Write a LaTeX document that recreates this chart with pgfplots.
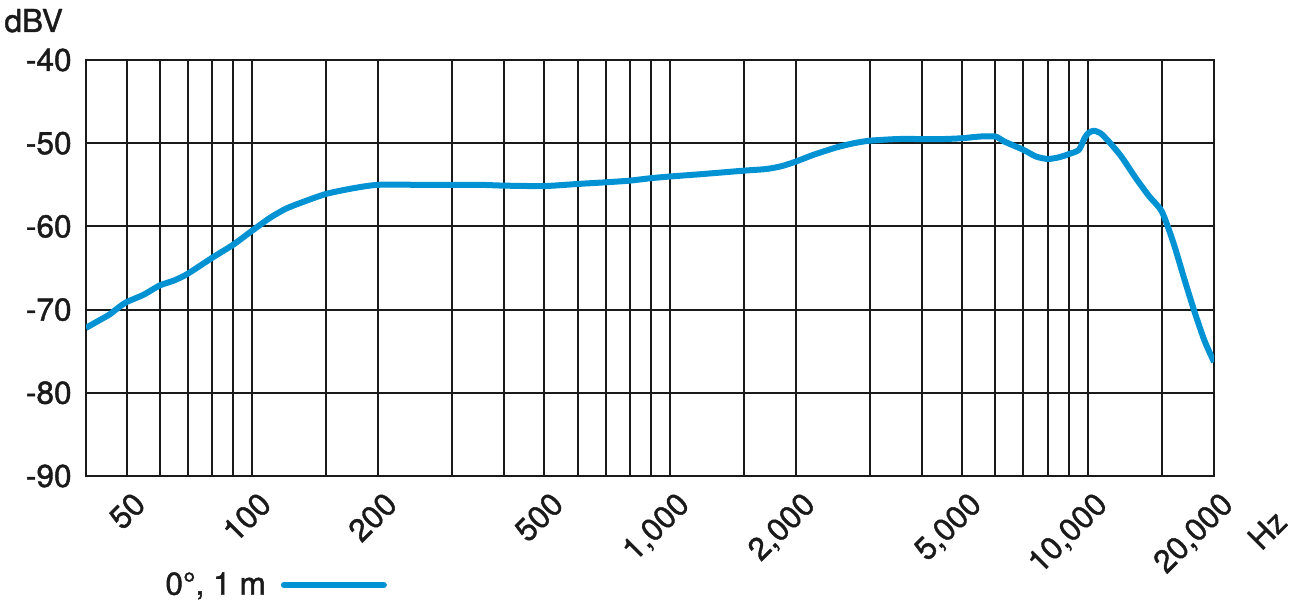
\documentclass[border=0pt]{standalone}
\usepackage{fontspec}
\setmainfont{TeX Gyre Heros}[FakeBold=1.3]
\usepackage{pgfplots}
\pgfplotsset{compat=1.18}
\definecolor{curve}{RGB}{0,146,211}
\definecolor{ink}{RGB}{26,26,26}
\newcommand{\lbl}{\fontsize{15.8bp}{18bp}\selectfont}

\begin{document}
\begin{tikzpicture}
\begin{axis}[
  name=ax,
  xmode=log,
  width=564bp, height=208bp, scale only axis,
  xmin=40, xmax=20000, ymin=-90, ymax=-40,
  xtick={40,50,60,70,80,90,100,150,200,300,400,500,600,700,800,900,1000,1500,2000,3000,4000,5000,6000,7000,8000,9000,10000,15000,20000},
  xticklabels={{},50,{},{},{},{},100,{},200,{},{},500,{},{},{},{},{1,000},{},{2,000},{},{},{5,000},{},{},{},{},{10,000},{},{20,000}},
  ytick={-90,-80,-70,-60,-50,-40},
  yticklabels={-90,-80,-70,-60,-50,\raisebox{-4bp}{-40}},
  major tick length=0pt,
  grid=major,
  grid style={line width=1bp, ink},
  axis line style={line width=1bp, ink},
  tick label style={font=\lbl, text=ink},
  xticklabel style={inner sep=0pt, anchor=base east, xshift=10.5bp, yshift=-15bp, rotate=45},
  yticklabel style={inner sep=0pt, anchor=east, xshift=-7bp},
  xlabel={Hz},
  xlabel style={at={(rel axis cs:1,0)}, anchor=base east, inner sep=0pt, xshift=37.5bp, yshift=-24bp, rotate=45, font=\lbl, text=ink},
  ylabel={dBV},
  ylabel style={at={(rel axis cs:0,1)}, rotate=-90, anchor=base west, inner sep=0pt, xshift=-41bp, yshift=14bp, font=\lbl, text=ink},
  legend plot pos=right,
  legend image code/.code={\path (0bp,0bp); \draw[#1, line cap=round] (7.5bp,0bp) -- (57.5bp,0bp);},
  legend style={at={(0,0)}, anchor=west, xshift=39.5bp, yshift=-54.5bp, draw=none, fill=none, inner sep=0pt, font=\lbl, text=ink, nodes={inner sep=0pt}},
]
\addplot[curve, line width=3bp, smooth, tension=0.4, line join=round] coordinates {
(40,-72.2) (43,-71.3) (45.5,-70.6) (48,-69.7) (50,-69.1) (55,-68.2) (60,-67.1) (65,-66.5) (70,-65.7)
(80,-63.8) (90,-62.2) (100,-60.5) (110,-59.0) (120,-57.9) (130,-57.2) (150,-56.1) (175,-55.4)
(200,-55.0) (250,-55.0) (300,-55.0) (350,-55.0) (400,-55.1) (500,-55.15) (600,-54.9) (700,-54.7)
(800,-54.5) (900,-54.2) (1000,-54.0) (1200,-53.7) (1500,-53.3) (1700,-53.1) (1850,-52.75) (2000,-52.2)
(2200,-51.4) (2500,-50.5) (2750,-50.0) (3000,-49.7) (3500,-49.5) (4000,-49.5) (4500,-49.5) (5000,-49.4)
(5500,-49.2) (6000,-49.2) (6300,-49.8) (7000,-50.8) (7500,-51.6) (8000,-51.9) (8500,-51.7) (9000,-51.3)
(9500,-50.8) (9800,-49.4) (10000,-48.8) (10300,-48.5) (10700,-48.8) (11200,-49.8) (12000,-51.6)
(13000,-54.2) (14000,-56.4) (15000,-58.2) (16000,-62.0) (17000,-66.4) (18000,-70.4) (19000,-73.8) (20000,-76.3)
};
\addlegendentry{0°, 1 m}
\end{axis}
\pgfresetboundingbox
\path ([xshift=-43bp,yshift=-66bp]ax.south west) rectangle ([xshift=40.5bp,yshift=30bp]ax.north east);
\end{tikzpicture}
\end{document}
